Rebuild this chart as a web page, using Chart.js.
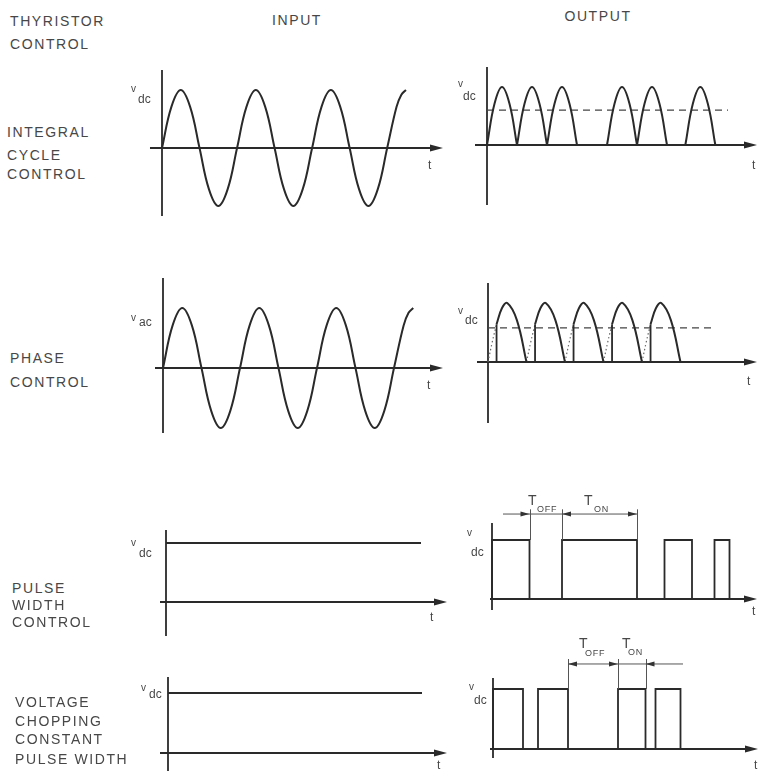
<!DOCTYPE html>
<html><head><meta charset="utf-8">
<script src="https://cdn.jsdelivr.net/npm/chart.js@4.4.1/dist/chart.umd.min.js"></script>
<style>
html,body{margin:0;padding:0;background:#fff}
body{width:761px;height:771px;position:relative;overflow:hidden;font-family:"Liberation Sans",Arial,sans-serif;color:#474747}
.t{position:absolute;white-space:pre}
.box{position:absolute}
</style></head><body>
<script>
// ---------- DATA ----------
// supply waveform (inputs of rows 1 & 2), electrical degrees / per-unit
const supplyDeg = [0,45,90,135,180,225,270,315,360,405,450,495,540,585,630,675,720,765,810,855,900,945,990,1035,1080,1125,1148,1170];
const supplyV   = [0,0.71,1,0.71,0,-0.71,-1,-0.71,0,0.71,1,0.71,0,-0.71,-1,-0.71,0,0.71,1,0.71,0,-0.71,-1,-0.71,0,0.71,0.92,1];
// half-cycle arch shape (rectified output)
const archPhase = [0,45,90,135,180];
const archV     = [0,0.71,1,0.71,0];
// integral cycle control output: start of each conducting half-cycle
const icArchStart = [0,180,360,720,900,1190];
const icAverage = 0.6, icAverageEnd = 1446;
// phase control output
const pcArchStart = [0,180,360,540,720];
const pcOnPhase  = [40,65,90,135,180];
const pcOnV      = [0.64,0.91,1,0.71,0];
const pcOffPhase = [0,20,40];
const pcOffV     = [0,0.34,0.64];
const pcAverage = 0.58, pcAverageEnd = 1061;
// pulse width control (time units)
const pwInputLevel = 1, pwInputEnd = 102;
const pwPulseOn  = [0,28,69,89];
const pwPulseOff = [15,58,80,95];
const pwToff = [15,28], pwTon = [28,58];
// voltage chopping, constant pulse width
const vcInputLevel = 1, vcInputEnd = 101.6;
const vcPulseOn  = [0,18,50,65];
const vcPulseOff = [12,30,61,75];
const vcToff = [30,50], vcTon = [50,61];

// ---------- BUILDERS ----------
const ink = '#2a2a2a';
const pts = (xs, ys) => xs.map((x,i)=>({x, y:ys[i]}));
function arches(starts, phase, v){
  const out=[];
  starts.forEach((s,k)=>{ if(k) out.push({x:s, y:null}); phase.forEach((p,i)=>out.push({x:s+p, y:v[i]})); });
  return out;
}
function pulses(on, off){
  const out=[];
  on.forEach((a,i)=>{ out.push({x:a,y:0},{x:a,y:1},{x:off[i],y:1},{x:off[i],y:0}); });
  return out;
}
function firingLines(starts, phase, v){
  const out=[];
  starts.forEach((s,k)=>{ if(k) out.push({x:s+phase,y:null}); out.push({x:s+phase,y:0},{x:s+phase,y:v}); });
  return out;
}
const line = (data, o={}) => Object.assign({data, borderColor:ink, borderWidth:2, pointRadius:0, tension:0, fill:false, spanGaps:false}, o);

const framePlugin = {
  id:'frame',
  beforeDatasetsDraw(chart){
    const c = chart.options.plugins.frame; if(!c) return;
    const {ctx, scales:{x,y}} = chart;
    ctx.save();
    ctx.strokeStyle = ink; ctx.fillStyle = ink; ctx.lineWidth = 1.8;
    const X0 = x.getPixelForValue(0), Y0 = y.getPixelForValue(0);
    ctx.beginPath(); ctx.moveTo(X0, y.getPixelForValue(c.ay[1])); ctx.lineTo(X0, y.getPixelForValue(c.ay[0])); ctx.stroke();
    const xa = x.getPixelForValue(c.ax[0]), xb = x.getPixelForValue(c.ax[1]);
    ctx.beginPath(); ctx.moveTo(xa, Y0); ctx.lineTo(xb-6, Y0); ctx.stroke();
    ctx.beginPath(); ctx.moveTo(xb, Y0); ctx.lineTo(xb-13, Y0-3.5); ctx.lineTo(xb-13, Y0+3.5); ctx.closePath(); ctx.fill();
    ctx.restore();
  },
  afterDatasetsDraw(chart){
    const c = chart.options.plugins.frame; if(!c || !c.dim) return;
    const d = c.dim, {ctx, scales:{x,y}} = chart;
    ctx.save();
    ctx.strokeStyle = '#555'; ctx.fillStyle = '#333'; ctx.lineWidth = 1;
    const Yd = y.getPixelForValue(d.level);
    ctx.beginPath(); ctx.moveTo(x.getPixelForValue(d.from), Yd); ctx.lineTo(x.getPixelForValue(d.to), Yd); ctx.stroke();
    d.ext.forEach(e=>{
      const X = Math.round(x.getPixelForValue(e))+0.5;
      ctx.beginPath(); ctx.moveTo(X, y.getPixelForValue(1)); ctx.lineTo(X, y.getPixelForValue(d.extTop)); ctx.stroke();
    });
    d.arrows.forEach(([v,dir])=>{
      const X = x.getPixelForValue(v);
      ctx.beginPath(); ctx.moveTo(X, Yd); ctx.lineTo(X-dir*9, Yd-2.5); ctx.lineTo(X-dir*9, Yd+2.5); ctx.closePath(); ctx.fill();
    });
    ctx.restore();
  }
};

function panel(p, datasets){
  const box = document.createElement('div');
  box.className='box';
  Object.assign(box.style,{left:p.left+'px', top:p.top+'px', width:p.w+'px', height:p.h+'px'});
  const cv = document.createElement('canvas'); cv.width=p.w; cv.height=p.h;
  box.appendChild(cv); document.body.appendChild(box);
  new Chart(cv, {
    type:'line',
    data:{datasets},
    plugins:[framePlugin],
    options:{
      responsive:false, animation:false, events:[],
      layout:{padding:0},
      scales:{
        x:{type:'linear', display:false, min:(p.left-p.x0)/p.kx, max:(p.left+p.w-p.x0)/p.kx},
        y:{type:'linear', display:false, min:(p.y0-p.top-p.h)/p.ky, max:(p.y0-p.top)/p.ky}
      },
      plugins:{legend:{display:false}, tooltip:{enabled:false}, frame:p.frame}
    }
  });
}

// ---------- PANELS ----------
panel({left:120,top:60,w:340,h:170,x0:162,y0:148,kx:0.2085,ky:58,frame:{ax:[-57.6,1347.7],ay:[-1.172,1.345]}},
  [line(pts(supplyDeg, supplyV), {tension:0.4})]);

panel({left:465,top:55,w:296,h:160,x0:487,y0:145,kx:30/180,ky:58,frame:{ax:[-72,1620],ay:[-1.034,1.345]}},
  [line(arches(icArchStart, archPhase, archV), {tension:0.4}),
   line([{x:0,y:icAverage},{x:icAverageEnd,y:icAverage}], {borderWidth:1.3, borderDash:[7,5], borderColor:'#444'})]);

panel({left:120,top:270,w:340,h:175,x0:163,y0:368,kx:77/360,ky:60,frame:{ax:[-37.4,1309],ay:[-1.083,1.5]}},
  [line(pts(supplyDeg, supplyV), {tension:0.4})]);

panel({left:465,top:275,w:296,h:155,x0:488,y0:362,kx:77/360,ky:59,frame:{ax:[-51.4,1257.6],ay:[-1.034,1.339]}},
  [line(arches(pcArchStart, pcOnPhase, pcOnV), {tension:0.4}),
   line(firingLines(pcArchStart, pcOnPhase[0], pcOnV[0]), {borderWidth:1.8}),
   line(arches(pcArchStart, pcOffPhase, pcOffV), {tension:0.4, borderWidth:1.2, borderDash:[1.5,2.5], borderColor:'#666'}),
   line([{x:0,y:pcAverage},{x:pcAverageEnd,y:pcAverage}], {borderWidth:1.3, borderDash:[7,5], borderColor:'#444'})]);

panel({left:120,top:520,w:340,h:120,x0:166,y0:602,kx:2.5,ky:59,frame:{ax:[-2.4,112.4],ay:[-0.576,1.22]}},
  [line([{x:0,y:pwInputLevel},{x:pwInputEnd,y:pwInputLevel}], {borderWidth:1.8})]);

panel({left:465,top:490,w:296,h:130,x0:492,y0:599,kx:2.5,ky:59,frame:{ax:[-0.8,106],ay:[-0.186,1.288],
  dim:{level:1.44, from:4.4, to:pwTon[1], extTop:1.52, ext:[pwToff[0],pwToff[1],pwTon[1]], arrows:[[pwToff[0],1],[pwToff[1],-1],[pwTon[1],1]]}}},
  [line(pulses(pwPulseOn, pwPulseOff), {borderWidth:1.8})]);

panel({left:120,top:665,w:340,h:106,x0:168,y0:753,kx:2.5,ky:60,frame:{ax:[-3.2,111.6],ay:[-0.3,1.267]}},
  [line([{x:0,y:vcInputLevel},{x:vcInputEnd,y:vcInputLevel}], {borderWidth:1.8})]);

panel({left:465,top:640,w:296,h:131,x0:493,y0:749,kx:2.5,ky:60,frame:{ax:[-1.2,106],ay:[-0.15,1.183],
  dim:{level:1.417, from:vcToff[0], to:76, extTop:1.5, ext:[vcToff[0],vcToff[1],vcTon[1]], arrows:[[vcToff[0],-1],[vcToff[1],1],[vcTon[1],-1]]}}},
  [line(pulses(vcPulseOn, vcPulseOff), {borderWidth:1.8})]);

// ---------- TEXT ----------
function text(s, x, yc, size, o={}){
  const d=document.createElement('div'); d.className='t'; d.textContent=s;
  const lh=Math.round(size*1.2);
  Object.assign(d.style,{left:x+'px', top:(yc-lh/2)+'px', fontSize:size+'px', lineHeight:lh+'px', letterSpacing:(o.ls!=null?o.ls:1.6)+'px'});
  if(o.center) d.style.transform='translateX(-50%)';
  document.body.appendChild(d);
}
[['THYRISTOR',10,21],['CONTROL',10,44],
 ['INTEGRAL',7,132],['CYCLE',7,155],['CONTROL',7,174],
 ['PHASE',10,358],['CONTROL',10,382],
 ['PULSE',12,588],['WIDTH',12,605],['CONTROL',12,622],
 ['VOLTAGE',15,702],['CHOPPING',15,721],['CONSTANT',15,739],['PULSE WIDTH',15,759]
].forEach(([s,x,y])=>text(s,x,y,14));
text('INPUT',297,20,14,{center:true});
text('OUTPUT',598,16,14,{center:true});
// time axis labels
[[431,165],[755,165],[430,385],[750,381],[433,617],[755,611],[440,765],[757,765]].forEach(([x,y])=>text('t',x-3,y,12,{ls:0}));
// level labels
[[131,89,'dc',138,99],[458,84,'dc',463,96],[131,318,'ac',139,322],[458,311,'dc',465,320],
 [131,543,'dc',139,553],[467,533,'dc',471,552],[141,688,'dc',149,694],[469,687,'dc',474,700]
].forEach(([vx,vy,sub,sx,sy])=>{ text('v',vx,vy,10,{ls:0}); text(sub,sx,sy,12,{ls:0}); });
// T_OFF / T_ON
[[528,500,'OFF',537,509],[584,500,'ON',594,509],[579,643,'OFF',585,653],[622,643,'ON',628,652]
].forEach(([tx,ty,sub,sx,sy])=>{ text('T',tx,ty,14,{ls:0}); text(sub,sx,sy,9,{ls:0.8}); });
</script>
</body></html>
